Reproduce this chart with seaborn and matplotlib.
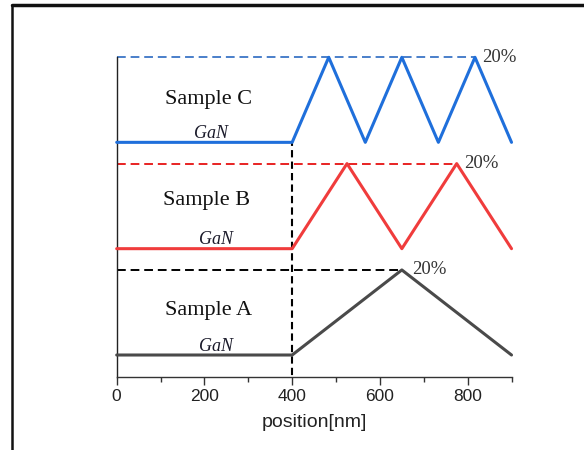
import numpy as np
import pandas as pd
import matplotlib
matplotlib.use("Agg")
import matplotlib.pyplot as plt
from matplotlib.lines import Line2D
import seaborn as sns

# ---- data ----
samples = ["Sample A", "Sample B", "Sample C"]
offsets = [0, 25, 50]
peak_value = 20
pos_A = [0, 400, 650, 900]
val_A = [0, 0, 20, 0]
pos_B = [0, 400, 525, 650, 775, 900]
val_B = [0, 0, 20, 0, 20, 0]
pos_C = [0, 400, 483.3, 566.7, 650, 733.3, 816.7, 900]
val_C = [0, 0, 20, 0, 20, 0, 20, 0]
last_peak = [650, 775, 816.7]
interface = 400
xticks = [0, 200, 400, 600, 800]
peak_label = "20%"
layer_label = "GaN"

colors = ["#4a4a4a", "#f03c3c", "#1f6fdb"]
dash_colors = ["#000000", "#e82222", "#4a7fca"]

sns.set_style("white")
plt.rcParams['font.family'] = ['Liberation Sans', 'DejaVu Sans']

fig = plt.figure(figsize=(5.84, 4.5), dpi=100)
ax = fig.add_axes([0.1998, 0.1629, 0.8759 - 0.1998, 0.8727 - 0.1629])

positions = [pos_A, pos_B, pos_C]
values = [val_A, val_B, val_C]
frames = []
for name, p, v, off in zip(samples, positions, values, offsets):
    frames.append(pd.DataFrame({"position": p,
                                "value": np.array(v) + off,
                                "sample": name}))

for i, df in enumerate(frames):
    sns.lineplot(data=df, x="position", y="value", ax=ax, color=colors[i],
                 linewidth=2.2, sort=False, estimator=None, clip_on=False, zorder=3)
    ax.plot([0, last_peak[i]], [offsets[i] + peak_value] * 2,
            linestyle=(0, (4.5, 2.5)), color=dash_colors[i], linewidth=1.4, zorder=1,
            clip_on=False)

# vertical interface line
ax.plot([interface, interface], [-10, offsets[2]], linestyle=(0, (3.5, 2)),
        color="black", linewidth=1.5, zorder=1)

# texts
sample_text_pos = [(210, 10.4), (205, 36.4), (210, 60.0)]
gan_text_pos = [(226, 1.9), (227, 27.2), (215, 52.0)]
pct_text_pos = [(674, 20), (793, 45), (834, 70)]
for i in range(3):
    ax.text(*sample_text_pos[i], samples[i], ha="center", va="center",
            fontsize=16, family=["Liberation Serif", "DejaVu Serif"], color="#111111")
    ax.text(*gan_text_pos[i], layer_label, ha="center", va="center",
            fontsize=13, style="italic", family=["Liberation Serif", "DejaVu Serif"],
            color="#1a1a2a")
    ax.text(*pct_text_pos[i], peak_label, ha="left", va="center",
            fontsize=13.5, family=["Liberation Serif", "DejaVu Serif"], color="#333333")

ax.set_xlim(0, 900)
ax.set_ylim(-5.1, 70)
ax.set_xticks(xticks)
ax.set_xticks([100, 300, 500, 700, 900], minor=True)
ax.set_yticks([])
ax.set_xlabel("position[nm]", fontsize=14, color="#222222", labelpad=7)
ax.set_ylabel("")
ax.tick_params(axis="x", which="major", direction="out", length=6, width=1,
               color="#333333", labelsize=12.5, labelcolor="#222222", pad=3,
               bottom=True)
ax.tick_params(axis="x", which="minor", direction="out", length=3.5, width=1,
               color="#333333", bottom=True)
for s in ["top", "right"]:
    ax.spines[s].set_visible(False)
ax.spines["left"].set_color("#222222")
ax.spines["left"].set_linewidth(1.0)
ax.spines["bottom"].set_color("#333333")
ax.spines["bottom"].set_linewidth(1.0)
ax.set_facecolor("none")

# figure frame (left and top edges visible)
fig.add_artist(Line2D([0.0197, 0.0197], [0, 0.9878], transform=fig.transFigure,
                      color="#111111", linewidth=1.8))
fig.add_artist(Line2D([0.0197, 1.0], [0.9878, 0.9878], transform=fig.transFigure,
                      color="#111111", linewidth=2.5))

fig.savefig("out.png", dpi=100)
